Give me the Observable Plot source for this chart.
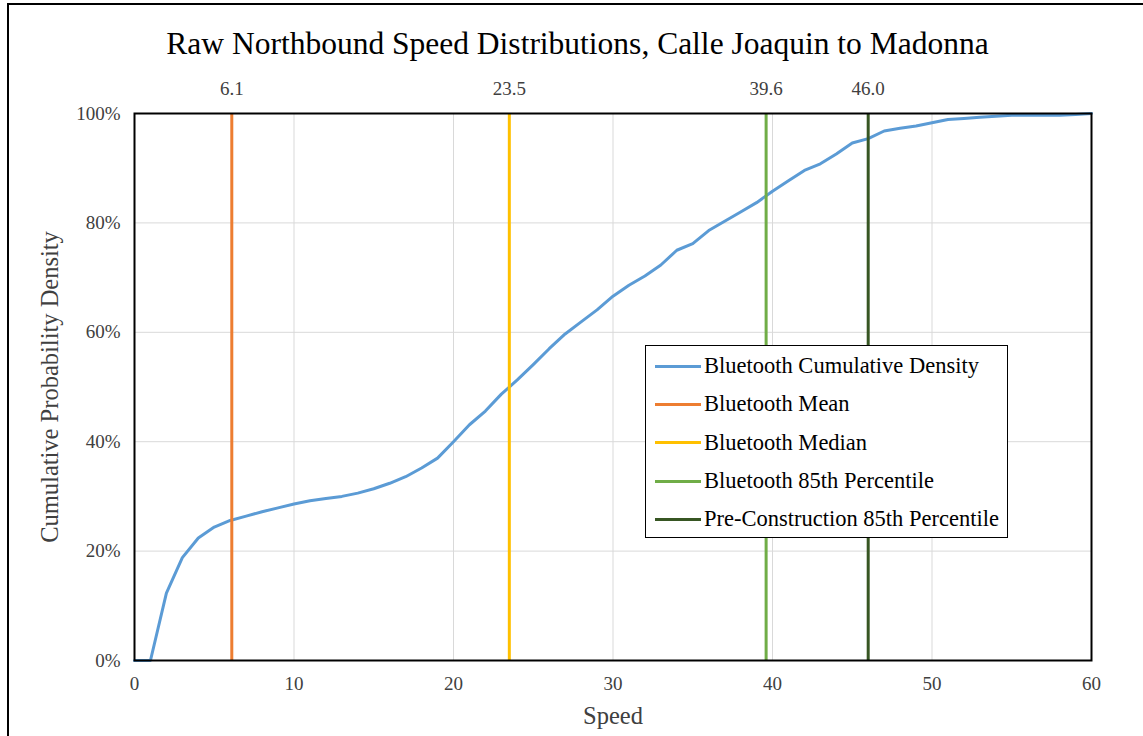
<!DOCTYPE html>
<html>
<head>
<meta charset="utf-8">
<script src="https://cdn.jsdelivr.net/npm/d3@7"></script>
<script src="https://cdn.jsdelivr.net/npm/@observablehq/plot@0.6"></script>
<style>
  html, body { margin: 0; padding: 0; background: #fff; }
  #page { position: relative; width: 1143px; height: 736px; overflow: hidden; font-family: "Liberation Serif", "DejaVu Serif", serif; }
  #border { position: absolute; left: 7px; top: 3px; width: 1200px; height: 800px; border-left: 2px solid #000; border-top: 2px solid #000; }
  #title { position: absolute; left: 6px; top: 24px; width: 1143px; text-align: center; font-family: "Liberation Serif", "DejaVu Serif", serif; font-size: 31.5px; color: #000; line-height: 40px; white-space: nowrap; }
  #chart { position: absolute; left: 0; top: 70px; }
  #legend { position: absolute; left: 645px; top: 345px; width: 363px; height: 193px; border: 1px solid #000; background: #fff; box-sizing: border-box; padding-top: 1px; }
  .item { display: flex; align-items: center; height: 38.3px; font-family: "Liberation Serif", "DejaVu Serif", serif; font-size: 22.5px; color: #000; white-space: nowrap; }
  .swatch { width: 46px; height: 3px; margin-left: 9px; margin-right: 3px; flex: none; }
</style>
</head>
<body>
<div id="page">
  <div id="border"></div>
  <div id="title"></div>
  <div id="chart"></div>
  <div id="legend"></div>
</div>
<script>
// Speed bins (mph) and the cumulative share of Bluetooth observations at or below each.
const speeds = [0, 1, 2, 3, 4, 5, 6, 7, 8, 9, 10, 11, 12, 13, 14, 15, 16, 17, 18, 19, 20,
  21, 22, 23, 24, 25, 26, 27, 28, 29, 30, 31, 32, 33, 34, 35, 36, 37, 38, 39, 40,
  41, 42, 43, 44, 45, 46, 47, 48, 49, 50, 51, 52, 53, 54, 55, 56, 57, 58, 59, 60];
const cumulativePct = [0, 0, 12.3, 18.8, 22.4, 24.4, 25.6, 26.4, 27.2, 27.9, 28.6,
  29.2, 29.6, 30.0, 30.6, 31.4, 32.4, 33.6, 35.2, 37.0, 40.0,
  43.1, 45.6, 48.7, 51.3, 54.1, 57.0, 59.7, 61.9, 64.1, 66.6,
  68.6, 70.3, 72.3, 75.0, 76.2, 78.6, 80.3, 82.0, 83.7, 85.8,
  87.7, 89.6, 90.8, 92.6, 94.6, 95.4, 96.8, 97.3, 97.7, 98.3,
  98.9, 99.1, 99.3, 99.5, 99.7, 99.7, 99.7, 99.7, 99.8, 100];

// Reference speeds drawn as vertical lines
const refNames = ["Bluetooth Mean", "Bluetooth Median", "Bluetooth 85th Percentile", "Pre-Construction 85th Percentile"];
const refValues = [6.1, 23.5, 39.6, 46.0];
const refColors = ["#ED7D31", "#FFC000", "#70AD47", "#375623"];

const curveName = "Bluetooth Cumulative Density";
const curveColor = "#5B9BD5";

const xTicks = [0, 10, 20, 30, 40, 50, 60];
const yTicks = [0, 0.2, 0.4, 0.6, 0.8, 1.0];

const titleText = "Raw Northbound Speed Distributions, Calle Joaquin to Madonna";
const xLabel = "Speed";
const yLabel = "Cumulative Probability Density";

const curve = speeds.map((s, i) => ({speed: s, p: cumulativePct[i] / 100}));
const refs = refValues.map((v, i) => ({name: refNames[i], value: v, color: refColors[i]}));

document.getElementById("title").textContent = titleText;

const serif = "'Liberation Serif', 'DejaVu Serif', serif";

const chart = Plot.plot({
  width: 1143,
  height: 666,
  marginLeft: 134,
  marginRight: 52,
  marginTop: 43,
  marginBottom: 76,
  style: {fontFamily: serif, fontSize: "19px", background: "transparent", overflow: "visible"},
  x: {domain: [0, 60], ticks: xTicks},
  y: {domain: [0, 1], ticks: yTicks},
  marks: [
    Plot.gridX(xTicks, {stroke: "#d9d9d9", strokeOpacity: 1, strokeWidth: 1}),
    Plot.gridY(yTicks, {stroke: "#d9d9d9", strokeOpacity: 1, strokeWidth: 1}),
    Plot.axisX(xTicks, {tickSize: 0, tickPadding: 16, fontSize: 19, fill: "#404040", label: null}),
    Plot.axisY(yTicks, {tickSize: 0, tickPadding: 14, fontSize: 19, fill: "#404040", tickFormat: d3.format(".0%"), label: null}),
    Plot.line(curve, {x: "speed", y: "p", stroke: curveColor, strokeWidth: 3}),
    Plot.ruleX(refs, {x: "value", stroke: "color", strokeWidth: 3}),
    Plot.frame({stroke: "#000", strokeWidth: 2}),
    Plot.text(refs, {x: "value", text: d => d3.format(".1f")(d.value), frameAnchor: "top", lineAnchor: "middle", dy: -25, fontSize: 19, fill: "#404040"}),
    Plot.text([xLabel], {text: d => d, frameAnchor: "bottom", lineAnchor: "middle", textAnchor: "middle", dy: 56, fontSize: 24.5, fill: "#404040"}),
    Plot.text([yLabel], {text: d => d, frameAnchor: "left", lineAnchor: "middle", textAnchor: "middle", dx: -84, rotate: -90, fontSize: 24.5, fill: "#404040"})
  ]
});
document.getElementById("chart").appendChild(chart);

// Legend listing the curve and the four reference lines
const legend = document.getElementById("legend");
[{name: curveName, color: curveColor}, ...refs].forEach(d => {
  const item = document.createElement("div");
  item.className = "item";
  const sw = document.createElement("span");
  sw.className = "swatch";
  sw.style.background = d.color;
  const label = document.createElement("span");
  label.textContent = d.name;
  item.appendChild(sw);
  item.appendChild(label);
  legend.appendChild(item);
});
</script>
</body>
</html>
